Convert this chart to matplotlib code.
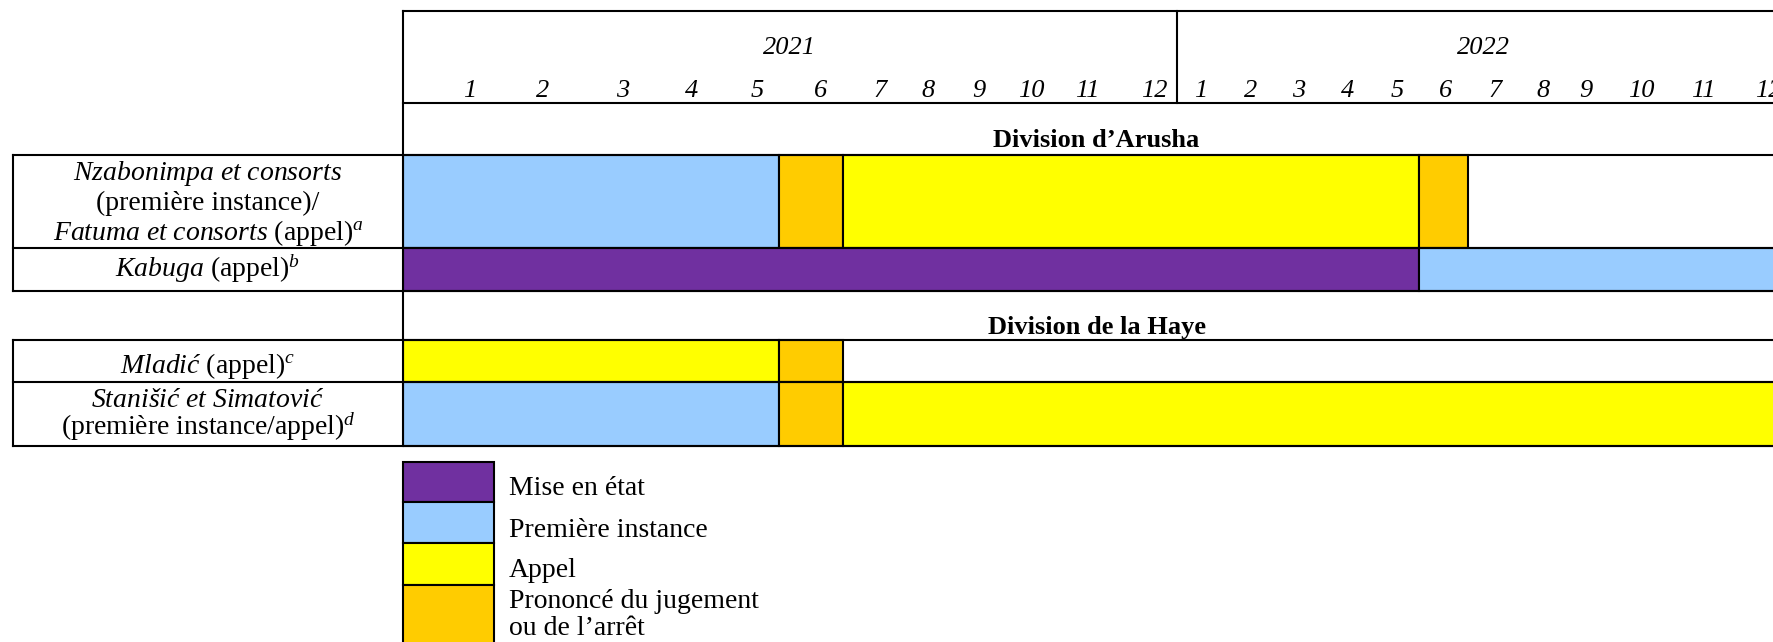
import numpy as np
import matplotlib
matplotlib.use("Agg")
import matplotlib.pyplot as plt
from matplotlib.patches import Rectangle
from matplotlib.transforms import offset_copy

plt.rcParams["font.family"] = ["Liberation Serif", "DejaVu Serif"]
plt.rcParams["mathtext.fontset"] = "custom"
plt.rcParams["mathtext.rm"] = "Liberation Serif"
plt.rcParams["mathtext.it"] = "Liberation Serif:italic"
plt.rcParams["mathtext.bf"] = "Liberation Serif:bold"

# --- données ---
years = ["2021", "2022"]
month_labels = ["1", "2", "3", "4", "5", "6", "7", "8", "9", "10", "11", "12",
                "1", "2", "3", "4", "5", "6", "7", "8", "9", "10", "11", "12"]
divisions = ["Division d\u2019Arusha", "Division de la Haye"]

phases = ["Mise en état", "Première instance", "Appel",
          "Prononcé du jugement\nou de l\u2019arrêt"]
phase_colors = ["#7030A0", "#99CCFF", "#FFFF00", "#FFCC00"]

# segments : phase, début et fin en mois depuis janvier 2021
nzab_phase = [1, 3, 2, 3]
nzab_start = [0, 5, 6, 17]
nzab_end = [5, 6, 17, 18]

kabuga_phase = [0, 1]
kabuga_start = [0, 17]
kabuga_end = [17, 24]

mladic_phase = [2, 3]
mladic_start = [0, 5]
mladic_end = [5, 6]

stan_phase = [1, 3, 2]
stan_start = [0, 5, 6]
stan_end = [5, 6, 24]

rows = [
    (nzab_phase, nzab_start, nzab_end),
    (kabuga_phase, kabuga_start, kabuga_end),
    (mladic_phase, mladic_start, mladic_end),
    (stan_phase, stan_start, stan_end),
]

# libellés des affaires, ligne par ligne
row_label_lines = [
    [r"$\mathit{Nzabonimpa\ et\ consorts}$",
     "(première instance)/",
     r"$\mathit{Fatuma\ et\ consorts}$ (appel)$^{\mathit{a}}$"],
    [r"$\mathit{Kabuga}$ (appel)$^{\mathit{b}}$"],
    [r"$\mathit{Mladić}$ (appel)$^{\mathit{c}}$"],
    [r"$\mathit{Stanišić\ et\ Simatović}$",
     r"(première instance/appel)$^{\mathit{d}}$"],
]

# --- mise en page (pixels) ---
W, H = 1773, 642
# bords des colonnes mensuelles (tableau Word, largeurs inégales)
month_edges = [403, 492, 565, 645, 714, 779, 842.5, 902, 950, 1001, 1053, 1109,
               1176.5, 1223, 1272.5, 1321, 1370, 1419, 1467.5, 1517, 1565, 1608,
               1663, 1725, 1790]
month_idx = np.arange(len(month_edges))
left_x = 13
table_top, header_bottom = 11.3, 102.7
row_top = [155, 247.6, 340, 382]
row_bottom = [247.6, 290.6, 382, 445.5]
label_baselines = [[180, 210, 240], [276.7], [373.3], [406.7, 435]]
division_baselines = [147, 333.6]
FS = 19      # en-têtes
FS_LAB = 20  # libellés et légende
LW = 1.5


def fwd(x):
    return np.interp(x, month_idx, month_edges)


def inv(x):
    return np.interp(x, month_edges, month_idx)


fig = plt.figure(figsize=(W / 100, H / 100), dpi=100)
fig.patch.set_facecolor("white")

# axe temporel : x en mois via une échelle fonctionnelle, y en pixels
x0, x1 = month_edges[0], month_edges[-1]
ax = fig.add_axes([x0 / W, 0, (x1 - x0) / W, 1])
ax.set_xscale("function", functions=(fwd, inv))
ax.set_xlim(0, len(month_edges) - 1)
ax.set_ylim(H, 0)
ax.axis("off")

for (ph, st, en), top, bot in zip(rows, row_top, row_bottom):
    st = np.array(st)
    en = np.array(en)
    ax.barh((top + bot) / 2, en - st, left=st, height=bot - top,
            color=[phase_colors[p] for p in ph], edgecolor="black",
            linewidth=LW, zorder=2)

month_tr = offset_copy(ax.transData, fig=fig, x=-22, y=0, units="dots")
for i, lab in enumerate(month_labels):
    ax.text(i + 1, 96.7, lab, transform=month_tr, ha="center", va="baseline",
            fontsize=FS, fontstyle="italic")

# cadre du tableau, libellés, légende
frame = fig.add_axes([0, 0, 1, 1])
frame.set_xlim(0, W)
frame.set_ylim(H, 0)
frame.axis("off")
frame.patch.set_alpha(0)

kw = dict(color="black", linewidth=LW, solid_capstyle="projecting", zorder=5)
frame.plot([x0, W], [table_top, table_top], **kw)
frame.plot([x0, W], [header_bottom, header_bottom], **kw)
frame.plot([x0, x0], [table_top, row_bottom[-1]], **kw)
frame.plot([month_edges[12]] * 2, [table_top, header_bottom], **kw)
for y in sorted(set(row_top + row_bottom)):
    frame.plot([left_x, W], [y, y], **kw)
frame.plot([left_x, left_x], [row_top[0], row_bottom[1]], **kw)
frame.plot([left_x, left_x], [row_top[2], row_bottom[3]], **kw)

for k, yr in enumerate(years):
    xc = (month_edges[12 * k] + month_edges[12 * k + 12]) / 2
    frame.text(xc, 48, yr, ha="center", va="center", fontsize=FS,
               fontstyle="italic")

for div, yb in zip(divisions, division_baselines):
    frame.text((x0 + x1) / 2, yb, div, ha="center", va="baseline",
               fontsize=FS, fontweight="bold")

label_xc = (left_x + x0) / 2
for lines, bases in zip(row_label_lines, label_baselines):
    for txt, yb in zip(lines, bases):
        frame.text(label_xc, yb, txt, ha="center", va="baseline",
                   fontsize=FS_LAB)

# légende
leg_edges = [461.5, 502.3, 543, 584.7, 660]
leg_text_base = [[495], [537.3], [577], [608, 635]]
for i, (name, col) in enumerate(zip(phases, phase_colors)):
    frame.add_patch(Rectangle((x0, leg_edges[i]), 494 - x0,
                              leg_edges[i + 1] - leg_edges[i],
                              facecolor=col, edgecolor="black", linewidth=LW,
                              zorder=4))
    for txt, yb in zip(name.split("\n"), leg_text_base[i]):
        frame.text(509, yb, txt, ha="left", va="baseline", fontsize=FS_LAB)

fig.savefig("out.png", dpi=100)
